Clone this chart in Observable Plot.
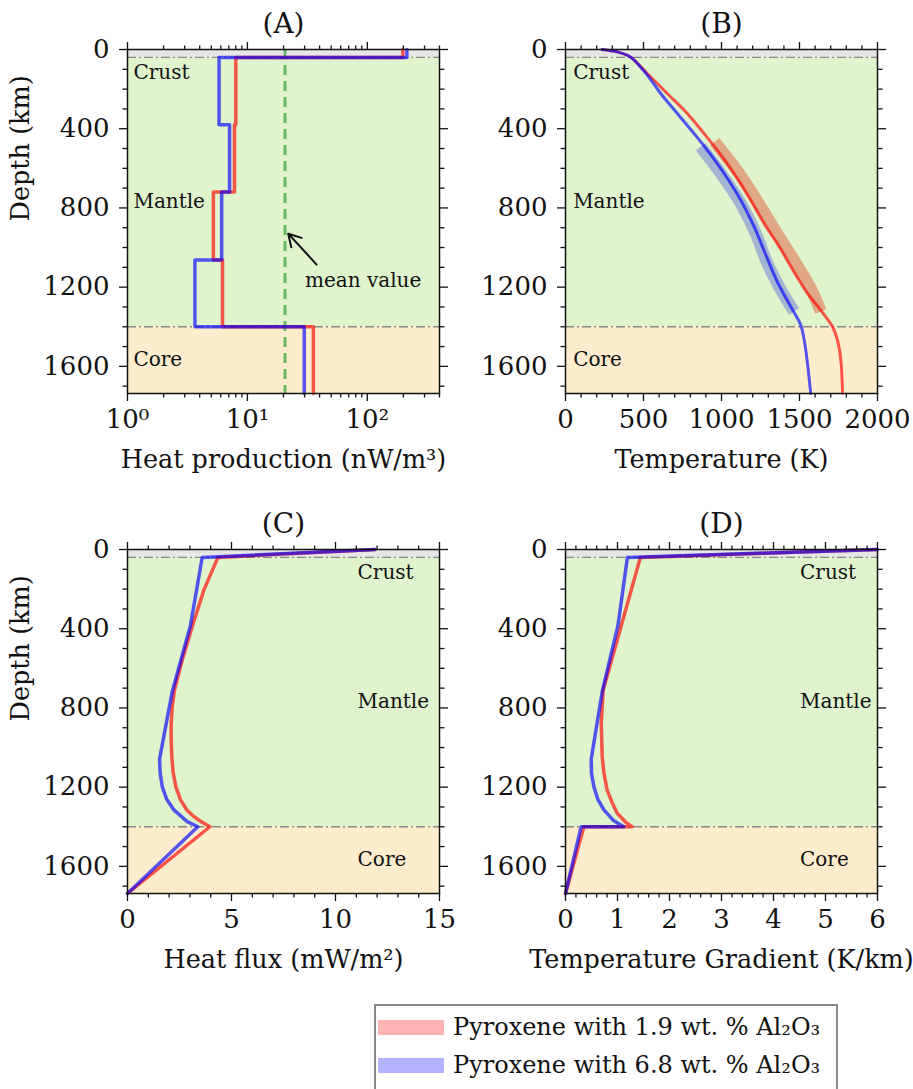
<!DOCTYPE html>
<html><head><meta charset="utf-8">
<script src="https://cdn.jsdelivr.net/npm/d3@7"></script>
<script src="https://cdn.jsdelivr.net/npm/@observablehq/plot@0.6"></script>
<style>
body{margin:0;background:#fff;font-family:"DejaVu Serif",serif;}
#wrap{position:relative;width:913px;height:1089px;overflow:hidden;background:#fff;}
.panel{position:absolute;}
#legend{position:absolute;left:374px;top:1004px;width:464px;height:120px;border:2px solid #8a8a8a;background:#fff;box-sizing:border-box;}
.sw{position:absolute;left:2px;width:66px;height:15px;}
.lt{position:absolute;left:77px;font-size:24px;line-height:30px;white-space:nowrap;color:#111;}
</style>
</head><body>
<div id="wrap"></div>
<script>
// ---------------- data ----------------
const seriesNames = ["Pyroxene with 1.9 wt. % Al₂O₃", "Pyroxene with 6.8 wt. % Al₂O₃"];
const seriesColors = ["red", "blue"];
const legendSwatch = ["#ffb3b3", "#b3b3ff"];

const moonRadius = 1737;
const crustBase = 40;
const coreTop = 1400;
const regionNames = ["Crust", "Mantle", "Core"];
const regionLabelDepth = [115, 767, 1564];

// (A) heat production, piecewise-constant layers
const layerTop =    [0, 40, 380, 720, 1063, 1400];
const layerBottom = [40, 380, 720, 1063, 1400, 1737];
const heatProdLowAl =  [198, 8.0, 7.8, 5.2, 6.2, 35.5];
const heatProdHighAl = [214, 5.8, 7.1, 6.1, 3.65, 29.8];
const meanHeatProd = 20.6;

// (B) temperature
const tempDepthLowAl = [0, 12, 29, 45, 121, 222, 323, 424, 508, 625, 760, 878, 995, 1130, 1231, 1306, 1399, 1466, 1567, 1737];
const tempLowAl =      [235, 332, 396, 428, 524, 652, 781, 888, 973, 1080, 1187, 1273, 1370, 1470, 1551, 1626, 1711, 1743, 1765, 1776];
const tempDepthHighAl = [0, 12, 29, 45, 129, 222, 323, 424, 508, 625, 760, 895, 1029, 1180, 1298, 1391, 1466, 1584, 1737];
const tempHighAl =      [235, 332, 396, 428, 524, 610, 717, 824, 909, 1016, 1123, 1209, 1280, 1362, 1444, 1508, 1530, 1551, 1572];
const bandDepthLowAl = [466, 625, 794, 945, 1079, 1206, 1323];
const bandTempLowAl =  [956, 1112, 1251, 1369, 1476, 1572, 1636];
const bandDepthHighAl = [491, 625, 777, 928, 1079, 1197, 1323];
const bandTempHighAl =  [866, 995, 1123, 1219, 1294, 1369, 1465];

// (C) heat flux
const fluxDepthLowAl = [0, 40, 205, 390, 558, 709, 793, 880, 962, 1046, 1130, 1200, 1264, 1315, 1348, 1375, 1400, 1737];
const fluxLowAl =      [11.9, 4.35, 3.67, 3.11, 2.63, 2.26, 2.15, 2.10, 2.10, 2.13, 2.20, 2.33, 2.55, 2.85, 3.19, 3.55, 3.96, 0];
const fluxDepthHighAl = [0, 40, 382, 718, 1059, 1130, 1197, 1260, 1315, 1374, 1400, 1737];
const fluxHighAl =      [11.9, 3.59, 3.03, 2.15, 1.54, 1.57, 1.67, 1.88, 2.23, 2.87, 3.38, 0];

// (D) temperature gradient
const gradDepthLowAl = [0, 40, 709, 878, 1046, 1130, 1214, 1280, 1332, 1375, 1400, 1400, 1737];
const gradLowAl =      [6.0, 1.44, 0.725, 0.687, 0.706, 0.74, 0.80, 0.90, 0.995, 1.15, 1.28, 0.353, 0];
const gradDepthHighAl = [0, 40, 382, 718, 1059, 1130, 1197, 1260, 1315, 1370, 1400, 1400, 1737];
const gradHighAl =      [6.0, 1.19, 1.01, 0.706, 0.494, 0.50, 0.545, 0.62, 0.738, 0.93, 1.12, 0.30, 0];

// ticks
const yMajor = [0, 400, 800, 1200, 1600];
const yMinor = [100, 200, 300, 500, 600, 700, 900, 1000, 1100, 1300, 1400, 1500, 1700];
const xMajorA = [1, 10, 100];
const xMinorA = [2,3,4,5,6,7,8,9,20,30,40,50,60,70,80,90,200,300,400];
const xLabelsA = {1: "10⁰", 10: "10¹", 100: "10²"};
const xMajorB = [0, 500, 1000, 1500, 2000];
const xMinorB = [100,200,300,400,600,700,800,900,1100,1200,1300,1400,1600,1700,1800,1900];
const xMajorC = [0, 5, 10, 15];
const xMinorC = [1,2,3,4,6,7,8,9,11,12,13,14];
const xMajorD = [0, 1, 2, 3, 4, 5, 6];
const xMinorD = [0.2,0.4,0.6,0.8,1.2,1.4,1.6,1.8,2.2,2.4,2.6,2.8,3.2,3.4,3.6,3.8,4.2,4.4,4.6,4.8,5.2,5.4,5.6,5.8];

// ---------------- helpers ----------------
const zip = (ds, xs) => ds.map((d, i) => ({y: d, x: xs[i]}));
const stepPts = vals => vals.flatMap((v, i) => [{x: v, y: layerTop[i]}, {x: v, y: layerBottom[i]}]);
const regions = regionNames.map((n, i) => ({name: n, y: regionLabelDepth[i]}));

const wrap = document.getElementById("wrap");
const FONT = "DejaVu Serif";
const TICKFS = 26;
const LABELFS = 25.5;

function makePanel({left, top, width, marginLeft, xScale, xMajor, xMinor, xFmt, title, xLabel, yLabel, labelX, data}) {
  const [xlo, xhi] = xScale.domain;
  const tickStroke = 1.3;
  const marks = [
    Plot.rect([0], {x1: xlo, x2: xhi, y1: 0, y2: crustBase, fill: "#e6e6e6"}),
    Plot.rect([0], {x1: xlo, x2: xhi, y1: crustBase, y2: coreTop, fill: "#dff3cc"}),
    Plot.rect([0], {x1: xlo, x2: xhi, y1: coreTop, y2: moonRadius, fill: "#feedcc"}),
    Plot.ruleY([crustBase, coreTop], {stroke: "#888", strokeWidth: 1.3, strokeDasharray: "9,3,2,3"}),
    ...data,
    Plot.text(regions, {x: () => labelX, y: "y", text: "name", textAnchor: "start", fontSize: 20, fill: "#111"}),
    Plot.frame({stroke: "#111", strokeWidth: 1.5}),
    Plot.axisY({anchor: "left", ticks: yMajor, tickSize: 8, tickPadding: 10, tickFormat: d => String(d), label: null, strokeWidth: tickStroke, fontSize: TICKFS}),
    Plot.axisY({anchor: "left", ticks: yMinor, tickSize: 4.5, tickFormat: () => "", label: null, strokeWidth: tickStroke}),
    Plot.axisY({anchor: "right", ticks: yMajor, tickSize: 8, tickFormat: () => "", label: null, strokeWidth: tickStroke}),
    Plot.axisY({anchor: "right", ticks: yMinor, tickSize: 4.5, tickFormat: () => "", label: null, strokeWidth: tickStroke}),
    Plot.axisX({anchor: "bottom", ticks: xMajor, tickSize: 8, tickPadding: 8, tickFormat: xFmt, label: null, strokeWidth: tickStroke, fontSize: TICKFS}),
    Plot.axisX({anchor: "bottom", ticks: xMinor, tickSize: 4.5, tickFormat: () => "", label: null, strokeWidth: tickStroke}),
    Plot.axisX({anchor: "top", ticks: xMajor, tickSize: 8, tickFormat: () => "", label: null, strokeWidth: tickStroke}),
    Plot.axisX({anchor: "top", ticks: xMinor, tickSize: 4.5, tickFormat: () => "", label: null, strokeWidth: tickStroke}),
    Plot.text([title], {text: d => d, frameAnchor: "top", lineAnchor: "middle", dy: -25, fontSize: 28, fill: "#111"}),
    Plot.text([xLabel], {text: d => d, frameAnchor: "bottom", lineAnchor: "middle", dy: 66, fontSize: LABELFS, fill: "#111"})
  ];
  if (yLabel) marks.push(Plot.text([yLabel], {text: d => d, frameAnchor: "left", lineAnchor: "middle", dx: -107, rotate: -90, fontSize: LABELFS, fill: "#111"}));
  const svg = Plot.plot({
    width, height: 500,
    marginLeft, marginRight: width - marginLeft - 312, marginTop: 49, marginBottom: 107,
    x: {...xScale, label: null},
    y: {domain: [moonRadius, 0], label: null},
    style: {fontFamily: FONT, fontSize: "24px", background: "transparent", overflow: "visible", color: "#111"},
    marks
  });
  const div = document.createElement("div");
  div.className = "panel";
  div.style.left = left + "px";
  div.style.top = top + "px";
  div.appendChild(svg);
  wrap.appendChild(div);
}

const lineOpts = (c, w) => ({x: "x", y: "y", stroke: c, strokeOpacity: 0.65, strokeWidth: w, curve: "linear"});

// (A)
makePanel({
  left: 0, top: 0, width: 456, marginLeft: 127,
  xScale: {type: "log", domain: [1, 400]}, xMajor: xMajorA, xMinor: xMinorA, xFmt: d => xLabelsA[d] || "",
  title: "(A)", xLabel: "Heat production (nW/m³)", yLabel: "Depth (km)", labelX: 1.12,
  data: [
    Plot.ruleX([meanHeatProd], {stroke: "#4fae4f", strokeWidth: 3, strokeDasharray: "10,6", strokeOpacity: 0.85}),
    Plot.line(stepPts(heatProdLowAl), lineOpts(seriesColors[0], 3.5)),
    Plot.line(stepPts(heatProdHighAl), lineOpts(seriesColors[1], 3.5)),
    Plot.arrow([0], {x1: 37.8, y1: 1086, x2: 21.9, y2: 930, stroke: "#111", strokeWidth: 2, headLength: 12, bend: 0}),
    Plot.text(["mean value"], {x: 30.2, y: 1165, text: d => d, textAnchor: "start", fontSize: 20, fill: "#111"})
  ]
});

// (B)
makePanel({
  left: 456, top: 0, width: 457, marginLeft: 109,
  xScale: {domain: [0, 2000]}, xMajor: xMajorB, xMinor: xMinorB, xFmt: d => String(d),
  title: "(B)", xLabel: "Temperature (K)", yLabel: null, labelX: 49,
  data: [
    Plot.line(zip(bandDepthLowAl, bandTempLowAl), {x: "x", y: "y", stroke: "#e06a48", strokeOpacity: 0.55, strokeWidth: 12, strokeLinecap: "butt", curve: "catmull-rom"}),
    Plot.line(zip(bandDepthHighAl, bandTempHighAl), {x: "x", y: "y", stroke: "#5a6ad6", strokeOpacity: 0.45, strokeWidth: 12, strokeLinecap: "butt", curve: "catmull-rom"}),
    Plot.line(zip(tempDepthLowAl, tempLowAl), {...lineOpts(seriesColors[0], 3), curve: "catmull-rom"}),
    Plot.line(zip(tempDepthHighAl, tempHighAl), {...lineOpts(seriesColors[1], 3), curve: "catmull-rom"})
  ]
});

// (C)
makePanel({
  left: 0, top: 500, width: 456, marginLeft: 127,
  xScale: {domain: [0, 15]}, xMajor: xMajorC, xMinor: xMinorC, xFmt: d => String(d),
  title: "(C)", xLabel: "Heat flux (mW/m²)", yLabel: "Depth (km)", labelX: 11.06,
  data: [
    Plot.line(zip(fluxDepthLowAl, fluxLowAl), lineOpts(seriesColors[0], 3.5)),
    Plot.line(zip(fluxDepthHighAl, fluxHighAl), lineOpts(seriesColors[1], 3.5))
  ]
});

// (D)
makePanel({
  left: 456, top: 500, width: 457, marginLeft: 109,
  xScale: {domain: [0, 6]}, xMajor: xMajorD, xMinor: xMinorD, xFmt: d => String(d),
  title: "(D)", xLabel: "Temperature Gradient (K/km)", yLabel: null, labelX: 4.51,
  data: [
    Plot.line(zip(gradDepthLowAl, gradLowAl), lineOpts(seriesColors[0], 3.5)),
    Plot.line(zip(gradDepthHighAl, gradHighAl), lineOpts(seriesColors[1], 3.5))
  ]
});

// legend
const leg = document.createElement("div");
leg.id = "legend";
seriesNames.forEach((name, i) => {
  const sw = document.createElement("div");
  sw.className = "sw";
  sw.style.top = (i === 0 ? 14 : 52) + "px";
  sw.style.background = legendSwatch[i];
  leg.appendChild(sw);
  const t = document.createElement("div");
  t.className = "lt";
  t.style.top = (i === 0 ? 6 : 44) + "px";
  t.textContent = name;
  leg.appendChild(t);
});
wrap.appendChild(leg);
</script>
</body></html>
